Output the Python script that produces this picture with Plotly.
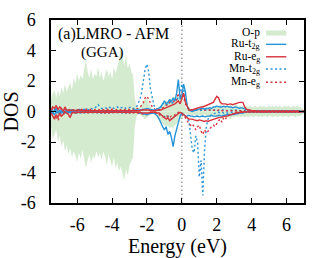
import numpy as np
import plotly.graph_objects as go

# Energy grid (eV)
energy = [round(-7.5 + 0.1 * i, 2) for i in range(146)]

op_up = [
    0.8, 1.2, 1.4, 0.9, 1.4, 1.0, 1.6, 1.2, 1.8, 1.3,
    1.6, 1.9, 1.4, 2.2, 1.8, 2.5, 2.0, 2.4, 2.1, 2.7,
    3.4, 2.6, 2.2, 2.8, 2.1, 2.5, 2.3, 2.9, 2.2, 2.6,
    2.0, 2.4, 2.8, 2.3, 2.6, 2.1, 2.9, 2.5, 3.0, 3.4,
    4.3, 3.6, 3.0, 3.7, 2.8, 3.2, 2.6, 2.4, 0.9, 0.3,
    0.2, 0.3, 0.5, 0.7, 0.8, 0.9, 0.6, 0.3, 0.2, 0.1,
    0.1, 0.2, 0.3, 0.4, 0.5, 0.6, 0.7, 0.6, 0.7, 0.8,
    0.9, 1.0, 0.9, 1.0, 1.1, 0.9, 0.6, 0.3, 0.2, 0.1,
    0.1, 0.1, 0.1, 0.2, 0.2, 0.1, 0.2, 0.2, 0.2, 0.3,
    0.2, 0.3, 0.2, 0.3, 0.3, 0.4, 0.3, 0.5, 0.4, 0.3,
    0.3, 0.4, 0.3, 0.5, 0.3, 0.4, 0.5, 0.3, 0.4, 0.3,
    0.4, 0.3, 0.4, 0.3, 0.4, 0.3, 0.3, 0.4, 0.3, 0.3,
    0.4, 0.3, 0.4, 0.3, 0.3, 0.4, 0.3, 0.4, 0.3, 0.4,
    0.3, 0.4, 0.3, 0.3, 0.4, 0.3, 0.4, 0.3, 0.3, 0.4,
    0.3, 0.4, 0.3, 0.3, 0.2, 0.1,
]
op_dn = [
    -1.0, -1.8, -1.5, -1.2, -2.0, -1.6, -2.3, -1.9, -2.6, -2.2,
    -2.8, -2.4, -3.0, -2.6, -2.9, -3.3, -2.7, -3.1, -2.5, -3.0,
    -3.7, -3.2, -2.8, -3.4, -2.9, -3.1, -2.6, -3.0, -2.7, -3.2,
    -2.6, -3.0, -3.5, -2.8, -3.3, -3.6, -3.0, -3.7, -3.4, -3.9,
    -3.6, -4.1, -4.5, -3.8, -4.2, -3.5, -3.3, -3.0, -1.0, -0.3,
    -0.2, -0.2, -0.3, -0.4, -0.5, -0.4, -0.3, -0.2, -0.2, -0.1,
    -0.2, -0.3, -0.5, -0.6, -0.8, -0.9, -1.0, -0.9, -1.1, -1.0,
    -1.1, -0.9, -0.8, -0.6, -0.5, -0.4, -0.3, -0.2, -0.2, -0.2,
    -0.2, -0.3, -0.2, -0.3, -0.3, -0.2, -0.3, -0.3, -0.2, -0.3,
    -0.3, -0.4, -0.3, -0.3, -0.4, -0.3, -0.4, -0.3, -0.5, -0.3,
    -0.4, -0.3, -0.4, -0.5, -0.3, -0.4, -0.3, -0.4, -0.3, -0.4,
    -0.3, -0.4, -0.3, -0.4, -0.3, -0.3, -0.4, -0.3, -0.3, -0.4,
    -0.3, -0.4, -0.3, -0.3, -0.4, -0.3, -0.3, -0.4, -0.3, -0.3,
    -0.4, -0.3, -0.3, -0.4, -0.3, -0.3, -0.4, -0.3, -0.3, -0.3,
    -0.4, -0.3, -0.3, -0.3, -0.2, -0.1,
]

ru_t2g_up = [
    0.0, -0.1, 0.1, 0.2, 0.0, -0.2, 0.1, -0.1, 0.0, 0.1,
    0.0, -0.1, 0.1, 0.0, -0.1, 0.0, 0.1, 0.0, 0.0, 0.1,
    0.0, 0.05, 0.0, 0.05, 0.0, 0.05, 0.05, 0.0, 0.05, 0.0,
    0.05, 0.0, 0.05, 0.05, 0.0, 0.05, 0.0, 0.05, 0.0, 0.05,
    0.0, 0.05, 0.05, 0.0, 0.05, 0.0, 0.05, 0.05, 0.1, 0.1,
    0.1, 0.1, 0.1, 0.15, 0.15, 0.2, 0.15, 0.1, 0.1, 0.1,
    0.1, 0.15, 0.2, 0.3, 0.5, 0.7, 0.5, 0.6, 0.8, 0.6,
    0.9, 0.7, 1.2, 2.1, 0.8, 1.0, 1.8, 1.3, 0.4, 0.1,
    0.05, 0.0, 0.05, 0.1, 0.1, 0.15, 0.2, 0.2, 0.15, 0.2,
    0.2, 0.25, 0.2, 0.3, 0.3, 0.35, 0.3, 0.3, 0.3, 0.35,
    0.3, 0.35, 0.3, 0.3, 0.25, 0.3, 0.3, 0.25, 0.2, 0.25,
    0.2, 0.15, 0.1, 0.1, 0.05, 0.05, 0.05, 0.0, 0.05, 0.0,
    0.05, 0.0, 0.05, 0.0, 0.05, 0.0, 0.05, 0.0, 0.05, 0.0,
    0.05, 0.0, 0.05, 0.0, 0.05, 0.0, 0.05, 0.0, 0.05, 0.0,
    0.05, 0.0, 0.05, 0.0, 0.0, 0.0,
]
ru_t2g_dn = [
    0.0, -0.1, -0.2, 0.0, -0.1, 0.1, -0.1, 0.0, -0.1, 0.0,
    -0.05, 0.0, -0.05, 0.0, -0.05, 0.0, -0.05, 0.0, -0.05, 0.0,
    -0.05, 0.0, -0.05, 0.0, -0.05, 0.0, -0.05, 0.0, -0.05, 0.0,
    -0.05, 0.0, -0.05, 0.0, -0.05, 0.0, -0.05, 0.0, -0.05, 0.0,
    -0.05, 0.0, -0.05, 0.0, -0.05, 0.0, -0.05, -0.05, -0.05, -0.05,
    -0.05, -0.1, -0.1, -0.15, -0.2, -0.2, -0.15, -0.1, -0.1, -0.1,
    -0.2, -0.3, -0.5, -0.8, -1.0, -1.2, -1.0, -1.5, -1.3, -1.7,
    -2.3, -1.6, -1.2, -0.8, -0.3, -0.1, -0.2, -0.3, -0.3, -0.25,
    -0.3, -0.3, -0.35, -0.3, -0.3, -0.35, -0.3, -0.3, -0.35, -0.3,
    -0.3, -0.3, -0.25, -0.3, -0.3, -0.3, -0.25, -0.3, -0.3, -0.25,
    -0.25, -0.2, -0.25, -0.2, -0.2, -0.2, -0.15, -0.15, -0.1, -0.1,
    -0.1, -0.05, -0.05, 0.0, -0.05, 0.0, -0.05, 0.0, -0.05, 0.0,
    -0.05, 0.0, -0.05, 0.0, -0.05, 0.0, -0.05, 0.0, -0.05, 0.0,
    -0.05, 0.0, -0.05, 0.0, -0.05, 0.0, -0.05, 0.0, -0.05, 0.0,
    -0.05, 0.0, -0.05, 0.0, 0.0, 0.0,
]

ru_eg_up = [
    0.1, 0.3, 0.2, 0.4, 0.1, 0.3, 0.2, 0.0, 0.3, 0.1,
    0.05, 0.1, 0.05, 0.1, 0.05, 0.05, 0.1, 0.05, 0.05, 0.05,
    0.05, 0.05, 0.05, 0.05, 0.05, 0.05, 0.05, 0.05, 0.05, 0.05,
    0.05, 0.05, 0.05, 0.05, 0.05, 0.05, 0.05, 0.05, 0.05, 0.05,
    0.05, 0.05, 0.05, 0.05, 0.05, 0.05, 0.05, 0.05, 0.05, 0.05,
    0.05, 0.05, 0.1, 0.1, 0.1, 0.1, 0.1, 0.05, 0.05, 0.05,
    0.05, 0.1, 0.1, 0.1, 0.15, 0.2, 0.2, 0.3, 0.3, 0.4,
    0.4, 0.5, 0.6, 0.7, 0.5, 0.8, 1.2, 0.6, 0.3, 0.1,
    0.1, 0.1, 0.15, 0.2, 0.2, 0.3, 0.3, 0.3, 0.35, 0.4,
    0.4, 0.45, 0.5, 0.6, 0.8, 1.0, 0.9, 0.6, 0.5, 0.5,
    0.5, 0.45, 0.5, 0.5, 0.45, 0.5, 0.5, 0.55, 0.6, 0.6,
    0.6, 0.3, 0.15, 0.1, 0.1, 0.05, 0.05, 0.05, 0.0, 0.05,
    0.0, 0.05, 0.0, 0.05, 0.0, 0.05, 0.0, 0.05, 0.0, 0.05,
    0.0, 0.05, 0.0, 0.05, 0.0, 0.05, 0.0, 0.05, 0.0, 0.05,
    0.0, 0.05, 0.0, 0.0, 0.0, 0.0,
]
ru_eg_dn = [
    -0.1, -0.3, -0.5, -0.2, -0.4, -0.1, -0.3, -0.2, 0.0, -0.1,
    -0.2, -0.4, -0.1, -0.05, -0.1, -0.05, -0.05, -0.05, -0.05, -0.05,
    -0.05, -0.05, -0.05, -0.05, -0.05, -0.05, -0.05, -0.05, -0.05, -0.05,
    -0.05, -0.05, -0.05, -0.05, -0.05, -0.05, -0.05, -0.05, -0.05, -0.05,
    -0.05, -0.05, -0.05, -0.05, -0.05, -0.05, -0.05, -0.05, -0.05, -0.05,
    -0.05, -0.05, -0.1, -0.1, -0.1, -0.1, -0.1, -0.05, -0.05, -0.05,
    -0.05, -0.1, -0.1, -0.2, -0.3, -0.4, -0.5, -0.4, -0.6, -0.5,
    -0.4, -0.3, -0.2, -0.1, -0.05, -0.1, -0.2, -0.3, -0.4, -0.5,
    -0.5, -0.5, -0.55, -0.6, -0.6, -0.55, -0.6, -0.6, -0.65, -0.6,
    -0.65, -0.6, -0.55, -0.5, -0.5, -0.45, -0.4, -0.4, -0.35, -0.3,
    -0.3, -0.3, -0.25, -0.2, -0.2, -0.15, -0.1, -0.1, -0.05, -0.05,
    -0.05, 0.0, -0.05, 0.0, -0.05, 0.0, -0.05, 0.0, -0.05, 0.0,
    -0.05, 0.0, -0.05, 0.0, -0.05, 0.0, -0.05, 0.0, -0.05, 0.0,
    -0.05, 0.0, -0.05, 0.0, -0.05, 0.0, -0.05, 0.0, -0.05, 0.0,
    -0.05, 0.0, -0.05, 0.0, 0.0, 0.0,
]

mn_t2g_up = [
    0.05, 0.1, 0.0, 0.1, 0.05, 0.0, 0.1, 0.05, 0.1, 0.05,
    0.1, 0.05, 0.1, 0.1, 0.05, 0.1, 0.15, 0.1, 0.1, 0.15,
    0.1, 0.15, 0.1, 0.2, 0.15, 0.2, 0.3, 0.45, 0.3, 0.2,
    0.2, 0.25, 0.2, 0.3, 0.25, 0.3, 0.2, 0.25, 0.3, 0.2,
    0.25, 0.3, 0.3, 0.2, 0.25, 0.3, 0.3, 0.2, 0.2, 0.3,
    0.5, 0.8, 1.3, 2.0, 2.8, 3.1, 2.6, 1.5, 0.8, 0.4,
    0.2, 0.15, 0.2, 0.3, 0.5, 0.6, 0.5, 0.4, 0.6, 0.5,
    0.6, 0.8, 0.7, 0.9, 1.2, 1.8, 1.5, 0.9, 0.4, 0.2,
    0.1, 0.05, 0.05, 0.1, 0.1, 0.05, 0.1, 0.1, 0.1, 0.1,
    0.1, 0.1, 0.05, 0.1, 0.1, 0.1, 0.05, 0.1, 0.1, 0.1,
    0.1, 0.05, 0.1, 0.1, 0.05, 0.1, 0.1, 0.05, 0.05, 0.05,
    0.05, 0.05, 0.05, 0.0, 0.05, 0.0, 0.05, 0.0, 0.05, 0.0,
    0.05, 0.0, 0.05, 0.0, 0.05, 0.0, 0.05, 0.0, 0.05, 0.0,
    0.05, 0.0, 0.05, 0.0, 0.05, 0.0, 0.05, 0.0, 0.05, 0.0,
    0.05, 0.0, 0.05, 0.0, 0.0, 0.0,
]
mn_t2g_dn = [
    -0.05, -0.1, -0.05, -0.1, -0.05, -0.1, -0.05, -0.1, -0.05, -0.1,
    -0.05, -0.1, -0.05, -0.1, -0.05, -0.1, -0.05, -0.1, -0.05, -0.1,
    -0.05, -0.1, -0.05, -0.1, -0.05, -0.1, -0.05, -0.1, -0.05, -0.1,
    -0.05, -0.1, -0.05, -0.1, -0.05, -0.1, -0.05, -0.1, -0.05, -0.1,
    -0.05, -0.1, -0.05, -0.1, -0.05, -0.1, -0.05, -0.1, -0.05, -0.1,
    -0.1, -0.1, -0.15, -0.2, -0.2, -0.2, -0.15, -0.1, -0.1, -0.1,
    -0.1, -0.1, -0.15, -0.2, -0.3, -0.3, -0.4, -0.3, -0.4, -0.5,
    -0.4, -0.3, -0.2, -0.1, -0.1, -0.2, -0.3, -0.3, -0.4, -0.6,
    -1.5, -2.5, -2.7, -1.6, -2.0, -4.3, -3.2, -5.5, -2.5, -1.0,
    -0.5, -0.3, -0.2, -0.15, -0.1, -0.1, -0.05, -0.1, -0.05, -0.1,
    -0.05, -0.1, -0.05, -0.05, -0.05, -0.05, -0.05, -0.05, -0.05, -0.05,
    -0.05, 0.0, -0.05, 0.0, -0.05, 0.0, -0.05, 0.0, -0.05, 0.0,
    -0.05, 0.0, -0.05, 0.0, -0.05, 0.0, -0.05, 0.0, -0.05, 0.0,
    -0.05, 0.0, -0.05, 0.0, -0.05, 0.0, -0.05, 0.0, -0.05, 0.0,
    -0.05, 0.0, -0.05, 0.0, 0.0, 0.0,
]

mn_eg_up = [
    0.1, 0.2, 0.1, 0.3, 0.2, 0.1, 0.2, 0.1, 0.15, 0.1,
    0.1, 0.15, 0.1, 0.1, 0.15, 0.1, 0.1, 0.15, 0.1, 0.1,
    0.15, 0.1, 0.1, 0.15, 0.1, 0.1, 0.15, 0.1, 0.1, 0.15,
    0.1, 0.1, 0.15, 0.1, 0.1, 0.15, 0.1, 0.1, 0.15, 0.1,
    0.1, 0.15, 0.1, 0.1, 0.15, 0.1, 0.1, 0.15, 0.1, 0.15,
    0.2, 0.3, 0.4, 0.6, 0.9, 1.0, 0.8, 0.5, 0.3, 0.2,
    0.1, 0.1, 0.1, 0.15, 0.2, 0.3, 0.4, 0.5, 0.6, 0.7,
    0.7, 0.6, 0.8, 1.2, 0.9, 1.3, 0.9, 0.5, 0.3, 0.2,
    0.1, 0.1, 0.1, 0.15, 0.1, 0.1, 0.15, 0.1, 0.1, 0.1,
    0.1, 0.1, 0.05, 0.1, 0.1, 0.05, 0.1, 0.05, 0.05, 0.05,
    0.05, 0.05, 0.05, 0.05, 0.05, 0.05, 0.05, 0.05, 0.05, 0.05,
    0.05, 0.0, 0.05, 0.0, 0.05, 0.0, 0.05, 0.0, 0.05, 0.0,
    0.05, 0.0, 0.05, 0.0, 0.05, 0.0, 0.05, 0.0, 0.05, 0.0,
    0.05, 0.0, 0.05, 0.0, 0.05, 0.0, 0.05, 0.0, 0.05, 0.0,
    0.05, 0.0, 0.05, 0.0, 0.0, 0.0,
]
mn_eg_dn = [
    -0.1, -0.2, -0.4, -0.3, -0.6, -0.3, -0.2, -0.1, -0.2, -0.1,
    -0.1, -0.05, -0.1, -0.05, -0.1, -0.05, -0.1, -0.05, -0.1, -0.05,
    -0.05, -0.1, -0.05, -0.1, -0.05, -0.1, -0.05, -0.1, -0.05, -0.1,
    -0.05, -0.1, -0.05, -0.1, -0.05, -0.1, -0.05, -0.1, -0.05, -0.1,
    -0.05, -0.1, -0.05, -0.1, -0.05, -0.1, -0.05, -0.1, -0.05, -0.1,
    -0.1, -0.1, -0.15, -0.2, -0.2, -0.2, -0.15, -0.1, -0.1, -0.1,
    -0.1, -0.15, -0.2, -0.3, -0.3, -0.4, -0.3, -0.3, -0.4, -0.3,
    -0.3, -0.2, -0.1, -0.05, -0.1, -0.2, -0.3, -0.4, -0.6, -0.8,
    -0.9, -0.8, -1.0, -1.2, -1.0, -0.9, -1.3, -1.5, -1.2, -1.4,
    -1.3, -1.1, -1.0, -0.9, -1.0, -0.8, -0.6, -0.5, -0.7, -0.4,
    -0.5, -0.3, -0.2, -0.2, -0.15, -0.1, -0.1, -0.05, -0.05, 0.0,
    -0.05, 0.0, -0.05, 0.0, -0.05, 0.0, -0.05, 0.0, -0.05, 0.0,
    -0.05, 0.0, -0.05, 0.0, -0.05, 0.0, -0.05, 0.0, -0.05, 0.0,
    -0.05, 0.0, -0.05, 0.0, -0.05, 0.0, -0.05, 0.0, -0.05, 0.0,
    -0.05, 0.0, -0.05, 0.0, 0.0, 0.0,
]

legend_labels = ["O-p", "Ru-t<sub>2g</sub>", "Ru-e<sub>g</sub>", "Mn-t<sub>2g</sub>", "Mn-e<sub>g</sub>"]
x_ticks = [-6, -4, -2, 0, 2, 4, 6]
y_ticks = [-6, -4, -2, 0, 2, 4, 6]

GREEN = "rgb(212,235,208)"
BLUE = "#2894d8"
RED = "#d8323a"
FONT = "Times New Roman, Liberation Serif, serif"
DOT = "2px,2.5px"

fig = go.Figure()
for ys in (op_up, op_dn):
    fig.add_trace(go.Scatter(x=energy, y=ys, mode="lines", fill="tozeroy",
                             fillcolor=GREEN, line=dict(width=0, color=GREEN),
                             showlegend=False, hoverinfo="skip"))

series = [
    (mn_t2g_up, BLUE, DOT), (mn_t2g_dn, BLUE, DOT),
    (mn_eg_up, RED, DOT), (mn_eg_dn, RED, DOT),
    (ru_t2g_up, BLUE, "solid"), (ru_t2g_dn, BLUE, "solid"),
    (ru_eg_up, RED, "solid"), (ru_eg_dn, RED, "solid"),
]
for ys, col, dash in series:
    fig.add_trace(go.Scatter(x=energy, y=ys, mode="lines",
                             line=dict(color=col, width=1.4, dash=dash),
                             showlegend=False))

# Fermi level
fig.add_shape(type="line", x0=0, x1=0, y0=0, y1=1, xref="x", yref="paper",
              line=dict(color="#888888", width=1.2, dash="1.5px,2.5px"), layer="below")

# Manual legend (text right-aligned, sample on the right)
leg_colors = [GREEN, BLUE, RED, BLUE, RED]
leg_dash = [None, "solid", "solid", DOT, DOT]
leg_y = [0.931, 0.867, 0.799, 0.732, 0.660]
for k, lab in enumerate(legend_labels):
    yk = leg_y[k]
    fig.add_annotation(x=0.835, y=yk, xref="paper", yref="paper", text=lab,
                       showarrow=False, xanchor="right", yanchor="middle",
                       font=dict(family=FONT, size=11.5, color="black"))
    if leg_dash[k] is None:
        fig.add_shape(type="rect", x0=0.85, x1=0.93, y0=yk - 0.016, y1=yk + 0.012,
                      xref="paper", yref="paper", fillcolor=GREEN, line=dict(width=0))
    else:
        fig.add_shape(type="line", x0=0.85, x1=0.93, y0=yk, y1=yk,
                      xref="paper", yref="paper",
                      line=dict(color=leg_colors[k], width=1.4, dash=leg_dash[k]))

fig.add_annotation(x=0.02, y=0.985, xref="paper", yref="paper", text="(a)LMRO - AFM",
                   showarrow=False, xanchor="left", yanchor="top",
                   font=dict(family=FONT, size=16, color="black"))
fig.add_annotation(x=0.112, y=0.882, xref="paper", yref="paper", text="(GGA)",
                   showarrow=False, xanchor="left", yanchor="top",
                   font=dict(family=FONT, size=15, color="black"))

axis_common = dict(showline=True, mirror="ticks", linecolor="black", linewidth=1.5,
                   ticks="inside", ticklen=5, tickwidth=1, tickcolor="black",
                   showgrid=False, zeroline=False,
                   tickfont=dict(family=FONT, size=18, color="black"))
fig.update_xaxes(range=[-7.5, 7.0], tickvals=x_ticks,
                 ticktext=[str(v) for v in x_ticks], ticklabelstandoff=5,
                 title=dict(text="Energy (eV)", font=dict(family=FONT, size=20, color="black"), standoff=1),
                 **axis_common)
fig.update_yaxes(range=[-6, 6], tickvals=y_ticks,
                 ticktext=[str(v) for v in y_ticks], ticklabelstandoff=10,
                 title=dict(text="DOS", font=dict(family=FONT, size=20, color="black"), standoff=1),
                 **axis_common)
fig.update_layout(width=312, height=258, margin=dict(l=49, r=6, t=20, b=55),
                  plot_bgcolor="white", paper_bgcolor="white", showlegend=False)
fig.write_html("out.html", config={"displayModeBar": False},
               post_script="document.body.style.margin='0px';")
